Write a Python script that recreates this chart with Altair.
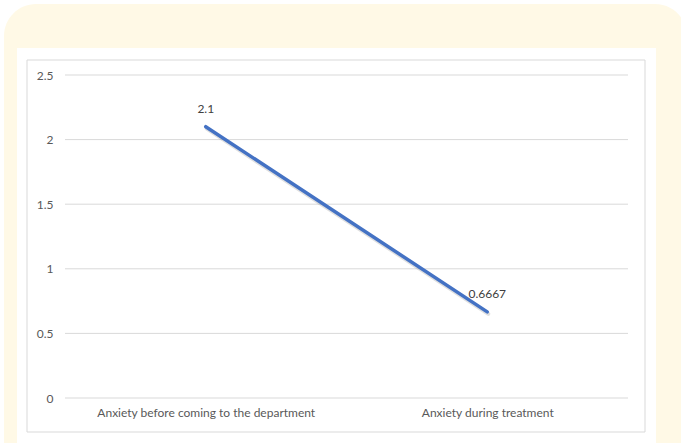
import altair as alt
import pandas as pd

# Mean anxiety scores at the two stages
stages = ["Anxiety before coming to the department", "Anxiety during treatment"]
scores = [2.1, 0.6667]
score_labels = ["2.1", "0.6667"]
y_ticks = [0, 0.5, 1, 1.5, 2, 2.5]

df = pd.DataFrame({"stage": stages, "score": scores, "label": score_labels})
grid_df = pd.DataFrame({"score": y_ticks})

FONT = "Lato"
TEXT_COLOR = "#595959"
GRID_COLOR = "#d9d9d9"
LINE_COLOR = "#4472C4"

x_axis = alt.Axis(labelAngle=0, labelAlign="center", labelBaseline="top", labelLimit=0,
                  ticks=False, domain=False, grid=False, labelPadding=9,
                  labelFontSize=12, labelFont=FONT, labelColor=TEXT_COLOR, zindex=1)
y_axis = alt.Axis(values=y_ticks, format="~g", ticks=False, domain=False, grid=False,
                  labelPadding=12, labelFontSize=12, labelFont=FONT,
                  labelColor=TEXT_COLOR, zindex=1)
y_scale = alt.Scale(domain=[0, 2.5], nice=False)

x_enc = alt.X("stage:N", sort=stages, title=None, axis=x_axis)
y_enc = alt.Y("score:Q", scale=y_scale, title=None, axis=y_axis)

one_row = alt.Data(values=[{}])

# Decorative frame: cream rounded panel, white card and thin inner border
cream = alt.Chart(one_row).mark_rect(fill="#FFF9E6", cornerRadius=32).encode(
    x=alt.value(-61), x2=alt.value(622), y=alt.value(-71), y2=alt.value(400))
card = alt.Chart(one_row).mark_rect(fill="white").encode(
    x=alt.value(-48), x2=alt.value(591), y=alt.value(-27), y2=alt.value(400))
border = alt.Chart(one_row).mark_rect(fill="white", stroke=GRID_COLOR, strokeWidth=1).encode(
    x=alt.value(-38), x2=alt.value(580), y=alt.value(-15), y2=alt.value(357))

# Horizontal gridlines at the tick values
grid = alt.Chart(grid_df).mark_rule(color=GRID_COLOR, strokeWidth=1).encode(y=y_enc)

shadow = alt.Chart(df).mark_line(color="#7f7f7f", strokeWidth=4, opacity=0.25,
                                 strokeCap="round", xOffset=1, yOffset=2).encode(
    x=x_enc, y=y_enc)

line = alt.Chart(df).mark_line(color=LINE_COLOR, strokeWidth=3.5, strokeCap="round").encode(
    x=x_enc, y=y_enc)

labels = alt.Chart(df).mark_text(font=FONT, fontSize=12, color="#404040",
                                 align="center", baseline="bottom", dy=-11).encode(
    x=x_enc, y=y_enc, text="label:N")

chart = alt.layer(cream, card, border, grid, shadow, line, labels).properties(
    width=563, height=323,
    autosize=alt.AutoSizeParams(type="none"),
    padding={"left": 65, "top": 75, "right": 53, "bottom": 45},
).configure(background="white").configure_view(stroke=None)

chart.save("out.html", embed_options={"renderer": "svg", "actions": False})
